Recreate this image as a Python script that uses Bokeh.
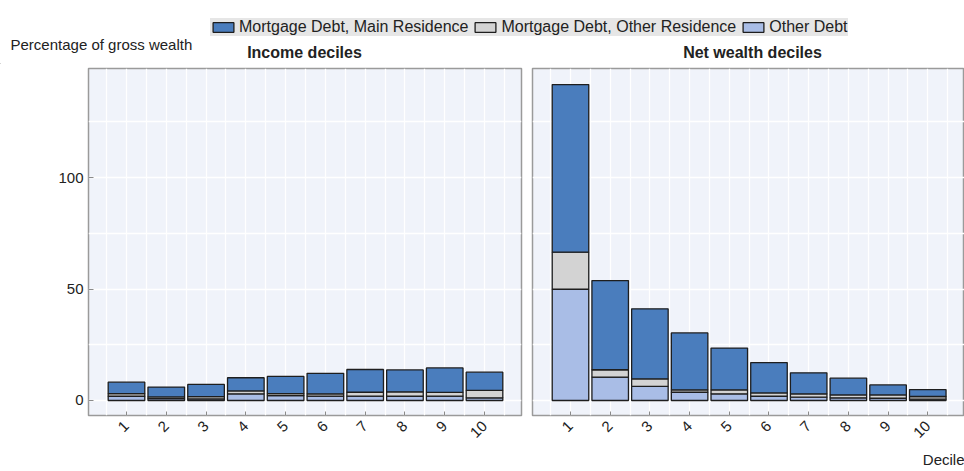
import math
from bokeh.plotting import figure
from bokeh.layouts import column, row
from bokeh.models import (ColumnDataSource, Range1d, FixedTicker, Label, Legend, LegendItem, Title)
from bokeh.embed import file_html
from bokeh.resources import INLINE

# ---------------- data ----------------
deciles = [1, 2, 3, 4, 5, 6, 7, 8, 9, 10]
tick_labels = ["1", "2", "3", "4", "5", "6", "7", "8", "9", "10"]

income_other = [1.9, 0.8, 0.7, 3.0, 2.2, 2.0, 2.0, 1.9, 2.0, 1.2]
income_res = [1.2, 0.8, 1.0, 1.3, 0.9, 1.0, 1.7, 2.0, 1.6, 3.3]
income_main = [5.1, 4.4, 5.5, 5.9, 7.7, 9.2, 10.2, 9.8, 11.0, 8.2]

wealth_other = [49.9, 10.5, 6.3, 3.7, 3.0, 1.9, 1.5, 1.2, 1.0, 0.6]
wealth_res = [16.6, 3.3, 3.4, 1.1, 1.8, 1.5, 1.5, 1.3, 1.5, 1.2]
wealth_main = [75.2, 40.0, 31.4, 25.5, 18.7, 13.6, 9.4, 7.5, 4.5, 3.1]

series_names = ["Mortgage Debt, Main Residence", "Mortgage Debt, Other Residence", "Other Debt"]
y_ticks = [0, 50, 100]

# ---------------- style ----------------
C_MAIN = "#4a7dbd"
C_RES = "#d3d3d3"
C_OTHER = "#a9bde6"
BG = "#f0f3fa"
FONT = "Liberation Sans"
TXT = "#222222"

W = 964
HEAD_H = 64
FRAME_H = 347
TOP = 4
BOTTOM = 471 - HEAD_H - TOP - FRAME_H
PH = TOP + FRAME_H + BOTTOM


def panel(width, left, right, xr):
    p = figure(width=width, height=PH, output_backend="svg", toolbar_location=None,
               x_range=xr, y_range=Range1d(-6.73, 148.9),
               min_border_left=left, min_border_right=right,
               min_border_top=TOP, min_border_bottom=BOTTOM)
    p.background_fill_color = BG
    p.border_fill_color = "white"
    p.outline_line_color = "#9a9a9a"
    p.outline_line_width = 1.5
    p.xgrid.ticker = FixedTicker(ticks=[i / 2 for i in range(1, 22)])
    p.ygrid.ticker = FixedTicker(ticks=[0, 25, 50, 75, 100, 125])
    p.grid.grid_line_color = "white"
    p.grid.grid_line_width = 1.3
    p.xaxis.ticker = FixedTicker(ticks=deciles)
    p.xaxis.major_label_overrides = {d: t for d, t in zip(deciles, tick_labels)}
    p.xaxis.major_label_orientation = math.pi / 4
    p.xaxis.major_tick_in = 4
    p.xaxis.major_tick_out = 0
    p.xaxis.minor_tick_line_color = None
    p.xaxis.axis_line_color = None
    p.xaxis.major_tick_line_color = "#8a8a8a"
    p.xaxis.major_label_standoff = 8
    p.xaxis.major_label_text_font = FONT
    p.xaxis.major_label_text_font_size = "15px"
    p.xaxis.major_label_text_color = TXT
    p.yaxis.ticker = FixedTicker(ticks=y_ticks)
    p.yaxis.major_tick_in = 5
    p.yaxis.major_tick_out = 0
    p.yaxis.minor_tick_line_color = None
    p.yaxis.axis_line_color = None
    p.yaxis.major_tick_line_color = "#8a8a8a"
    p.yaxis.major_label_standoff = 5
    p.yaxis.major_label_text_font = FONT
    p.yaxis.major_label_text_font_size = "15px"
    p.yaxis.major_label_text_color = TXT
    return p


def bars(p, other, res, main):
    src = ColumnDataSource(dict(x=deciles, other=other, res=res, main=main))
    return p.vbar_stack(["other", "res", "main"], x="x", width=0.92, source=src,
                        fill_color=[C_OTHER, C_RES, C_MAIN],
                        line_color="#1e1e1e", line_width=1.3)


# left panel: frame 88..521 page px
p1 = panel(526, 88, 5, Range1d(0.045, 10.93))
bars(p1, income_other, income_res, income_main)

# right panel: frame 532..964 page px
p2 = panel(438, 6, 0, Range1d(0.043, 10.925))
p2.yaxis.visible = False
bars(p2, wealth_other, wealth_res, wealth_main)
p2.add_layout(Title(text="Decile", align="right", standoff=6,
                    text_font=FONT, text_font_size="15px", text_font_style="normal",
                    text_color=TXT), "below")

# header with legend, y label and panel titles
header = figure(width=W, height=HEAD_H, output_backend="svg", toolbar_location=None,
                x_range=Range1d(0, W), y_range=Range1d(0, HEAD_H),
                x_axis_type=None, y_axis_type=None,
                min_border_left=0, min_border_right=0, min_border_top=0, min_border_bottom=0)
header.outline_line_color = None
header.background_fill_color = "white"
header.border_fill_color = "white"
dummy = ColumnDataSource(dict(x=[-50], top=[0]))
items = []
for name, col in zip(series_names, [C_MAIN, C_RES, C_OTHER]):
    r = header.vbar(x="x", top="top", width=1, source=dummy,
                    fill_color=col, line_color="#1e1e1e", line_width=1.3)
    items.append(LegendItem(label=name, renderers=[r]))
leg = Legend(items=items, orientation="horizontal", location=(210, HEAD_H - 36),
             background_fill_color="#e6e6e6", background_fill_alpha=1.0,
             border_line_color=None, glyph_width=26, glyph_height=12,
             label_standoff=3, spacing=4, padding=5, margin=0, label_height=18,
             label_text_font=FONT, label_text_font_size="16px", label_text_color=TXT)
header.add_layout(leg, "center")

header.add_layout(Label(x=10, y=HEAD_H - 43.5, text="Percentage of gross wealth",
                        text_align="left", text_baseline="middle",
                        text_font=FONT, text_font_size="15px", text_color=TXT))
header.add_layout(Label(x=304, y=HEAD_H - 52, text="Income deciles",
                        text_align="center", text_baseline="middle",
                        text_font=FONT, text_font_size="16px", text_font_style="bold",
                        text_color=TXT))
header.add_layout(Label(x=752, y=HEAD_H - 52, text="Net wealth deciles",
                        text_align="center", text_baseline="middle",
                        text_font=FONT, text_font_size="16px", text_font_style="bold",
                        text_color=TXT))

layout = column(header, row(p1, p2, spacing=0), spacing=0)
open("out.html", "w").write(file_html(layout, INLINE))
